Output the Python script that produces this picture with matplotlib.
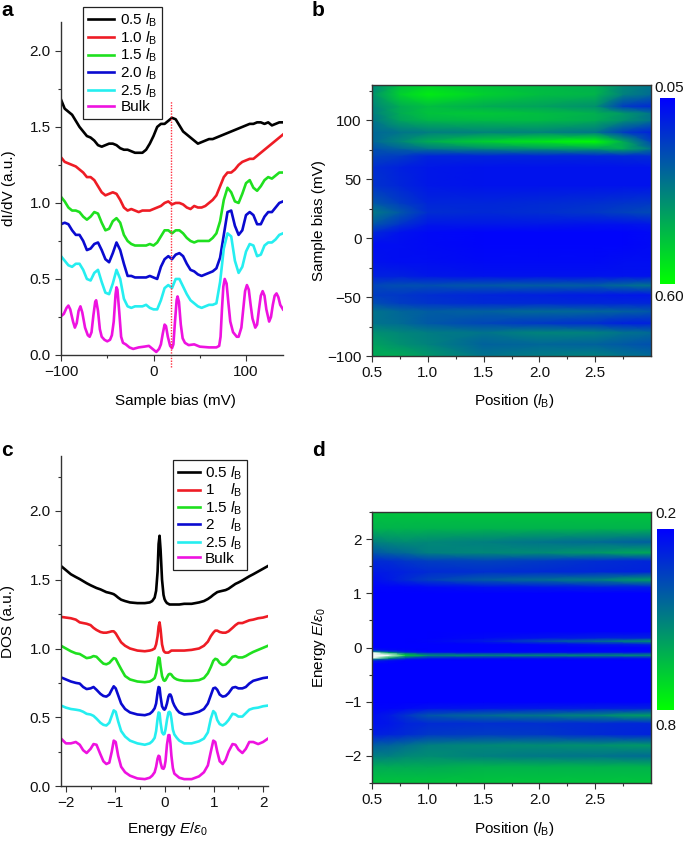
import numpy as np
import matplotlib
matplotlib.use('Agg')
from matplotlib import pyplot as plt
from matplotlib.colors import LinearSegmentedColormap, Normalize

plt.rcParams['font.family'] = ['Liberation Sans', 'DejaVu Sans']
plt.rcParams['mathtext.fontset'] = 'custom'
plt.rcParams['mathtext.rm'] = 'Liberation Sans'
plt.rcParams['mathtext.it'] = 'Liberation Sans:italic'
plt.rcParams['font.size'] = 11

# Panel a, measured spectra
bias = [-100, -96, -92, -88, -84, -80, -76, -72, -68, -64, -60, -56, -52, -48, -44, -40,
        -36, -32, -28, -24, -20, -16, -12, -8, -4, 0, 4, 8, 12, 16, 20, 24, 28, 32, 36, 40,
        44, 48, 52, 56, 60, 64, 68, 72, 76, 80, 84, 88, 92, 96, 100, 104, 108, 112, 116,
        120, 124, 128, 132, 136, 140]
a_05 = [1.68, 1.62, 1.60, 1.58, 1.54, 1.50, 1.47, 1.44, 1.43, 1.41, 1.38, 1.37, 1.38, 1.39, 1.39, 1.38,
        1.36, 1.35, 1.35, 1.34, 1.33, 1.33, 1.33, 1.35, 1.39, 1.44, 1.50, 1.52, 1.52, 1.54, 1.56, 1.55,
        1.51, 1.47, 1.45, 1.43, 1.41, 1.39, 1.40, 1.41, 1.42, 1.42, 1.43, 1.44, 1.45, 1.46, 1.47, 1.48,
        1.49, 1.50, 1.51, 1.52, 1.52, 1.53, 1.53, 1.52, 1.53, 1.51, 1.52, 1.53, 1.53]
a_10 = [1.30, 1.27, 1.26, 1.25, 1.24, 1.22, 1.20, 1.17, 1.17, 1.15, 1.11, 1.07, 1.05, 1.06, 1.07, 1.06,
        1.02, 0.97, 0.95, 0.96, 0.95, 0.94, 0.95, 0.95, 0.95, 0.96, 0.97, 0.98, 1.00, 1.01, 0.99, 1.00,
        1.00, 0.99, 0.97, 0.96, 0.98, 0.97, 0.97, 0.98, 1.00, 1.02, 1.05, 1.11, 1.17, 1.20, 1.20, 1.22,
        1.25, 1.27, 1.28, 1.29, 1.29, 1.31, 1.33, 1.35, 1.37, 1.39, 1.41, 1.43, 1.45]
a_15 = [1.04, 1.01, .97, .95, .95, .94, .91, .89, .91, .94, .93, .87, .82, .83, .88, .90,
        .87, .79, .75, .73, .72, .72, .72, .72, .73, .72, .74, .78, .82, .82, .80, .82,
        .82, .80, .77, .75, .74, .75, .75, .75, .75, .77, .80, .88, 1.02, 1.10, 1.07, 1.01,
        1.00, 1.06, 1.13, 1.15, 1.10, 1.08, 1.11, 1.15, 1.17, 1.16, 1.18, 1.20, 1.20]
a_20 = [.86, .87, .86, .82, .79, .79, .75, .69, .70, .73, .74, .69, .63, .61, .67, .74,
        .69, .60, .52, .52, .51, .51, .51, .51, .52, .51, .50, .58, .63, .65, .63, .66,
        .67, .65, .60, .56, .55, .53, .52, .53, .54, .55, .57, .64, .79, .94, .95, .85,
        .79, .82, .92, .94, .92, .86, .86, .91, .94, .94, .97, 1.00, 1.01]
a_25 = [.65, .62, .59, .58, .60, .60, .56, .50, .49, .54, .56, .48, .41, .40, .47, .56,
        .50, .37, .32, .31, .32, .32, .32, .33, .31, .30, .30, .36, .44, .46, .44, .50,
        .50, .45, .40, .36, .34, .32, .31, .32, .33, .33, .34, .48, .70, .80, .78, .62,
        .54, .58, .68, .73, .72, .65, .66, .72, .74, .74, .76, .79, .80]
bulk_bias = [-100, -97, -94, -92, -90, -87, -85, -83, -81, -79, -77, -74, -71, -69, -67, -65, -63, -62,
             -60, -58, -56, -53, -50, -47, -45, -43, -41, -40, -39, -37, -35, -33, -30, -26, -22, -16,
             -10, -5, -1, 3, 6, 8, 10, 12, 13.5, 15.5, 18, 20, 21.5, 23, 25, 26, 27.5, 29.5, 31.5, 34,
             38, 44, 50, 60, 68, 71, 72.5, 74, 75.5, 77, 79, 81, 83, 86, 90, 92, 95, 97, 99, 101, 103,
             105, 107, 110, 112, 114, 116, 118, 120, 122, 125, 127, 129, 131, 133, 135, 137, 140]
a_bulk = [.255, .27, .31, .325, .30, .22, .18, .21, .29, .32, .28, .18, .13, .12, .15, .26, .35, .36,
          .29, .17, .12, .10, .09, .10, .13, .22, .40, .445, .43, .28, .12, .08, .07, .05, .04, .05,
          .055, .06, .04, .02, .04, .07, .14, .20, .19, .12, .06, .045, .07, .20, .36, .385, .35, .20, .11, .08,
          .065, .07, .055, .05, .05, .06, .12, .30, .45, .50, .47, .34, .22, .15, .12, .12, .18, .30, .42, .46, .43,
          .33, .24, .18, .20, .30, .39, .42, .39, .30, .22, .25, .33, .39, .405, .38, .33, .30]

# Panel c, calculated DOS
energy = [-2.1, -2, -1.9, -1.8, -1.72, -1.65, -1.58, -1.5, -1.44, -1.38,
          -1.3, -1.24, -1.18, -1.12, -1.07, -1.03, -.99, -.94, -.88, -.8,
          -.7, -.55, -.4, -.3, -.25, -.2, -.17, -.14, -.12, -.1,
          -.08, -.05, -.02, 0,
          .02, .05, .08, .1, .12, .14, .17, .2, .25, .3,
          .4, .55, .7, .8, .88, .94, .99, 1.03, 1.07, 1.12,
          1.18, 1.24, 1.3, 1.38, 1.44, 1.5, 1.58, 1.65, 1.72, 1.8,
          1.9, 2, 2.1]
c_05 = [1.60, 1.57, 1.54, 1.52, 1.505, 1.49, 1.475, 1.46, 1.45, 1.44,
        1.43, 1.42, 1.41, 1.405, 1.40, 1.395, 1.385, 1.37, 1.355, 1.345,
        1.335, 1.33, 1.33, 1.335, 1.345, 1.37, 1.42, 1.56, 1.76, 1.82,
        1.72, 1.50, 1.39, 1.36,
        1.345, 1.33, 1.325, 1.32, 1.32, 1.32, 1.32, 1.32, 1.32, 1.32,
        1.325, 1.325, 1.335, 1.345, 1.36, 1.375, 1.39, 1.40, 1.41, 1.415,
        1.42, 1.425, 1.435, 1.455, 1.47, 1.48, 1.495, 1.51, 1.525, 1.54,
        1.56, 1.58, 1.60]
c_10 = [1.23, 1.225, 1.22, 1.21, 1.19, 1.185, 1.18, 1.17, 1.15, 1.135,
        1.12, 1.115, 1.115, 1.12, 1.125, 1.125, 1.11, 1.08, 1.045, 1.02,
        1.00, .985, .98, .985, .99, 1.00, 1.03, 1.09, 1.16, 1.19,
        1.14, 1.03, .985, .975,
        .97, .97, .97, .975, .98, .985, .985, .985, .985, .985,
        .985, .99, 1.00, 1.02, 1.05, 1.09, 1.115, 1.13, 1.13, 1.12,
        1.115, 1.115, 1.125, 1.15, 1.17, 1.185, 1.185, 1.195, 1.205, 1.21,
        1.22, 1.225, 1.235]
c_15 = [1.02, 1.00, .98, .965, .96, .945, .93, .935, .945, .94,
        .91, .89, .885, .895, .915, .93, .925, .89, .85, .80,
        .775, .76, .755, .76, .77, .785, .82, .89, .935, .93,
        .87, .80, .77, .765,
        .77, .79, .81, .815, .815, .81, .795, .785, .775, .77,
        .765, .765, .77, .785, .82, .865, .91, .925, .92, .895,
        .88, .885, .905, .94, .945, .935, .935, .945, .96, .975,
        .99, 1.005, 1.02]
c_20 = [.79, .775, .76, .75, .745, .72, .705, .71, .72, .70,
        .67, .655, .65, .665, .70, .725, .71, .66, .60, .56,
        .535, .52, .515, .525, .54, .565, .60, .68, .72, .715,
        .65, .58, .56, .555,
        .565, .60, .65, .665, .665, .65, .61, .585, .555, .535,
        .52, .525, .54, .56, .60, .66, .71, .715, .70, .665,
        .65, .655, .675, .715, .72, .71, .71, .72, .745, .765,
        .775, .785, .79]
c_25 = [.585, .57, .56, .555, .55, .54, .525, .52, .51, .49,
        .46, .445, .44, .46, .51, .55, .54, .47, .40, .36,
        .33, .31, .30, .31, .325, .35, .40, .49, .535, .53,
        .46, .39, .375, .38,
        .41, .48, .535, .54, .53, .49, .41, .375, .35, .33,
        .31, .31, .325, .345, .39, .49, .545, .53, .48, .45,
        .44, .455, .48, .525, .52, .505, .505, .53, .555, .565,
        .57, .58, .585]
c_bulk = [.345, .31, .31, .32, .30, .26, .24, .27, .305, .30,
          .23, .18, .16, .17, .25, .33, .32, .22, .14, .10,
          .075, .055, .05, .06, .075, .10, .14, .20, .22, .215,
          .17, .13, .125, .14,
          .18, .30, .37, .37, .31, .22, .13, .09, .075, .06,
          .05, .05, .07, .10, .15, .25, .33, .32, .25, .18,
          .16, .19, .25, .305, .30, .265, .24, .27, .32, .32,
          .305, .32, .345]

legend_a = ['0.5 $\\mathit{l}_{\\mathrm{B}}$', '1.0 $\\mathit{l}_{\\mathrm{B}}$', '1.5 $\\mathit{l}_{\\mathrm{B}}$',
            '2.0 $\\mathit{l}_{\\mathrm{B}}$', '2.5 $\\mathit{l}_{\\mathrm{B}}$', 'Bulk']
legend_c = ['0.5 $\\mathit{l}_{\\mathrm{B}}$', '1    $\\mathit{l}_{\\mathrm{B}}$', '1.5 $\\mathit{l}_{\\mathrm{B}}$',
            '2    $\\mathit{l}_{\\mathrm{B}}$', '2.5 $\\mathit{l}_{\\mathrm{B}}$', 'Bulk']
line_colors = ['black', '#ee1c25', '#1fe01f', '#0a0ad0', '#25eef0', '#ee12e0']

# Panel b map: rows follow map_b_bias, columns follow map_b_pos
map_b_pos = [0.5, 0.75, 1.0, 1.5, 2.0, 2.5, 2.75, 3.0]
map_b_bias = [-100, -90, -80, -72, -62, -55, -48, -40, -32, -20, -5, 5, 12, 22, 30, 45, 60, 70,
              76, 82, 90, 100, 106, 112, 122, 130]
map_b = [[.42, .42, .38, .30, .32, .33, .30, .28],
         [.40, .36, .33, .26, .27, .26, .24, .22],
         [.36, .34, .32, .30, .34, .33, .30, .28],
         [.30, .28, .24, .20, .17, .15, .12, .12],
         [.30, .27, .25, .26, .28, .27, .26, .24],
         [.22, .18, .16, .14, .14, .13, .13, .13],
         [.18, .17, .15, .13, .12, .11, .10, .10],
         [.20, .22, .22, .24, .25, .25, .28, .30],
         [.12, .12, .10, .09, .09, .09, .09, .09],
         [.09, .08, .08, .07, .07, .07, .08, .08],
         [.08, .08, .07, .06, .06, .06, .06, .07],
         [.14, .09, .07, .06, .06, .06, .06, .07],
         [.24, .16, .10, .10, .10, .09, .09, .10],
         [.32, .24, .15, .14, .15, .17, .19, .21],
         [.24, .18, .13, .13, .14, .15, .16, .17],
         [.16, .13, .10, .09, .09, .09, .09, .09],
         [.15, .12, .10, .09, .09, .09, .09, .09],
         [.20, .18, .13, .13, .13, .13, .14, .15],
         [.22, .26, .30, .34, .36, .38, .42, .30],
         [.27, .34, .42, .50, .55, .60, .42, .20],
         [.27, .30, .32, .33, .33, .30, .18, .12],
         [.30, .40, .44, .45, .45, .42, .36, .30],
         [.32, .42, .47, .48, .46, .43, .38, .30],
         [.33, .42, .46, .42, .40, .36, .18, .14],
         [.36, .50, .56, .50, .46, .44, .33, .28],
         [.33, .46, .50, .47, .45, .43, .34, .30]]

# Panel d map, values above 0.8 show up white
map_d_pos = [0.5, 0.65, 0.8, 1.0, 1.5, 2.0, 2.5, 3.0]
map_d_energy = [-2.5, -2.2, -2.0, -1.8, -1.6, -1.4, -1.25, -1.12, -1.0, -.3, -.24, -.21, -.19, -.14, -.09, -.07, -.04, 0,
                .06, .12, .18, .3, 1.0, 1.12, 1.25, 1.4, 1.6, 1.75, 1.95, 2.2, 2.5]
map_d = [[.66, .66, .66, .66, .66, .66, .66, .66],
         [.60, .60, .60, .60, .62, .62, .62, .62],
         [.50, .50, .52, .53, .50, .48, .47, .45],
         [.42, .43, .46, .50, .52, .53, .54, .56],
         [.27, .28, .30, .33, .34, .33, .30, .28],
         [.24, .25, .28, .30, .31, .31, .30, .29],
         [.23, .26, .32, .40, .45, .48, .52, .58],
         [.21, .21, .22, .24, .25, .26, .27, .28],
         [.20, .20, .20, .20, .20, .20, .20, .20],
         [.20, .20, .20, .20, .20, .20, .20, .20],
         [.28, .23, .20, .20, .20, .20, .20, .20],
         [.50, .38, .26, .22, .22, .22, .22, .22],
         [1.0, .60, .36, .28, .26, .26, .26, .26],
         [1.0, 1.0, .72, .54, .52, .52, .52, .52],
         [1.0, .60, .36, .28, .26, .26, .27, .28],
         [.50, .38, .26, .22, .22, .22, .22, .22],
         [.26, .22, .21, .20, .20, .20, .20, .20],
         [.20, .20, .20, .20, .20, .20, .20, .20],
         [.20, .20, .20, .20, .20, .21, .24, .27],
         [.20, .20, .20, .21, .26, .38, .45, .55],
         [.20, .20, .20, .20, .22, .24, .27, .28],
         [.20, .20, .20, .20, .20, .20, .20, .20],
         [.20, .20, .20, .20, .20, .20, .20, .20],
         [.21, .21, .21, .22, .24, .25, .27, .27],
         [.23, .26, .30, .35, .42, .46, .50, .58],
         [.26, .27, .28, .30, .31, .30, .29, .28],
         [.30, .31, .33, .35, .36, .34, .31, .29],
         [.40, .43, .45, .50, .52, .53, .56, .60],
         [.50, .52, .53, .52, .50, .47, .45, .42],
         [.62, .62, .62, .62, .62, .62, .62, .62],
         [.66, .66, .66, .66, .66, .66, .66, .66]]

W, H = 685, 842
fig = plt.figure(figsize=(W / 100, H / 100), dpi=100)
dark = '#333333'


def px_axes(left, top, right, bottom):
    return fig.add_axes([left / W, 1 - bottom / H, (right - left) / W, (bottom - top) / H])


def style_ticks(ax):
    ax.tick_params(which='major', length=4.5, width=0.8, color=dark, pad=3, labelcolor='#111111')
    ax.tick_params(which='minor', length=2.5, width=0.8, color=dark)
    for s in ax.spines.values():
        s.set_color(dark)
        s.set_linewidth(1.0)


def panel_label(s, x, y):
    fig.text(x / W, 1 - y / H, s, fontsize=15, fontweight='bold', ha='left', va='center')


def put_labels(ax, xlab, ylab, xpix_y, ypix_x, left, top, right, bottom):
    ax.set_xlabel(xlab, va='center')
    ax.set_ylabel(ylab, va='center')
    ax.xaxis.set_label_coords(0.5 + 3 / (right - left), (bottom - xpix_y) / (bottom - top))
    ax.yaxis.set_label_coords((ypix_x - left) / (right - left), 0.5)


def legend_box(ax, labels, handlelen, x, y, spacing, textpad):
    leg = fig.legend(ax.get_lines()[:6], labels, loc='upper left', bbox_to_anchor=(x / W, 1 - y / H),
                     fancybox=False, framealpha=1, edgecolor='#222222', fontsize=11, handlelength=handlelen,
                     labelspacing=spacing, handletextpad=textpad, borderpad=0.3, borderaxespad=0)
    leg.get_frame().set_linewidth(0.9)


# a
ax = px_axes(61, 22, 283, 355)
for y, c in zip([a_05, a_10, a_15, a_20, a_25], line_colors):
    ax.plot(bias, y, color=c, lw=1.9)
ax.plot(bulk_bias, a_bulk, color=line_colors[5], lw=1.9)
ax.plot([19, 19], [-0.08, 1.67], color='#ff3040', lw=1.0, ls=(0, (1, 1)), clip_on=False)
ax.set_xlim(-100, 140)
ax.set_ylim(0, 2.19)
ax.set_xticks([-100, 0, 100])
ax.set_xticks([-50, 50], minor=True)
ax.set_yticks([0, 0.5, 1.0, 1.5, 2.0])
ax.set_yticklabels(['0.0', '0.5', '1.0', '1.5', '2.0'])
ax.set_yticks([0.25, 0.75, 1.25, 1.75], minor=True)
ax.spines['top'].set_visible(False)
ax.spines['right'].set_visible(False)
style_ticks(ax)
put_labels(ax, 'Sample bias (mV)', 'dI/dV (a.u.)', 401, 9, 61, 22, 283, 355)
legend_box(ax, legend_a, 1.7, 83, 7, 0.02, 0.45)
panel_label('a', 1, 10)

# c
ax = px_axes(61, 456, 268, 786)
for y, c in zip([c_05, c_10, c_15, c_20, c_25, c_bulk], line_colors):
    ax.plot(energy, y, color=c, lw=1.9)
ax.set_xlim(-2.1, 2.1)
ax.set_ylim(0, 2.4)
ax.set_xticks([-2, -1, 0, 1, 2])
ax.set_xticks([-1.5, -0.5, 0.5, 1.5], minor=True)
ax.set_yticks([0, 0.5, 1.0, 1.5, 2.0])
ax.set_yticklabels(['0.0', '0.5', '1.0', '1.5', '2.0'])
ax.set_yticks([0.25, 0.75, 1.25, 1.75, 2.25], minor=True)
ax.spines['top'].set_visible(False)
ax.spines['right'].set_visible(False)
style_ticks(ax)
put_labels(ax, 'Energy $\\mathit{E}/\\varepsilon_{0}$', 'DOS (a.u.)', 829, 8, 61, 456, 268, 786)
legend_box(ax, legend_c, 1.45, 173, 460, 0.0, 0.35)
panel_label('c', 1, 450)

# blue at the low end, green at the high end
cmap = LinearSegmentedColormap.from_list('bg', ['#0000ff', '#00ff00'])
cmap.set_over('white')

# b
ax = px_axes(372, 85, 651, 356)
norm_b = Normalize(0.05, 0.60)
m = ax.pcolormesh(map_b_pos, map_b_bias, np.array(map_b), cmap=cmap, norm=norm_b, shading='gouraud')
ax.set_xlim(0.5, 3.0)
ax.set_ylim(-100, 130)
ax.set_xticks([0.5, 1.0, 1.5, 2.0, 2.5])
ax.set_xticks([0.75, 1.25, 1.75, 2.25, 2.75], minor=True)
ax.set_yticks([-100, -50, 0, 50, 100])
ax.set_yticks([-75, -25, 25, 75, 125], minor=True)
style_ticks(ax)
put_labels(ax, 'Position ($\\mathit{l}_{\\mathrm{B}}$)', 'Sample bias (mV)', 401, 319, 372, 85, 651, 356)
panel_label('b', 312, 10)
cax = px_axes(660, 98, 675, 284)
cb = fig.colorbar(m, cax=cax)
cb.ax.invert_yaxis()
cb.set_ticks([])
cb.outline.set_visible(False)
fig.text(669 / W, 1 - 88 / H, '0.05', ha='center', va='center', color='#111111')
fig.text(669 / W, 1 - 297 / H, '0.60', ha='center', va='center', color='#111111')

# d
ax = px_axes(372, 512, 651, 783)
norm_d = Normalize(0.2, 0.8)
m = ax.pcolormesh(map_d_pos, map_d_energy, np.array(map_d), cmap=cmap, norm=norm_d, shading='gouraud')
ax.set_xlim(0.5, 3.0)
ax.set_ylim(-2.5, 2.5)
ax.set_xticks([0.5, 1.0, 1.5, 2.0, 2.5])
ax.set_xticks([0.75, 1.25, 1.75, 2.25, 2.75], minor=True)
ax.set_yticks([-2, -1, 0, 1, 2])
ax.set_yticks([-2.5, -1.5, -0.5, 0.5, 1.5, 2.5], minor=True)
style_ticks(ax)
put_labels(ax, 'Position ($\\mathit{l}_{\\mathrm{B}}$)', 'Energy $\\mathit{E}/\\varepsilon_{0}$', 829, 319, 372, 512, 651, 783)
panel_label('d', 312, 450)
cax = px_axes(657, 529, 674, 710)
cb = fig.colorbar(m, cax=cax, extend='neither')
cb.ax.invert_yaxis()
cb.set_ticks([])
cb.outline.set_visible(False)
fig.text(666 / W, 1 - 514 / H, '0.2', ha='center', va='center', color='#111111')
fig.text(666 / W, 1 - 726 / H, '0.8', ha='center', va='center', color='#111111')

fig.savefig('out.png', dpi=100)
